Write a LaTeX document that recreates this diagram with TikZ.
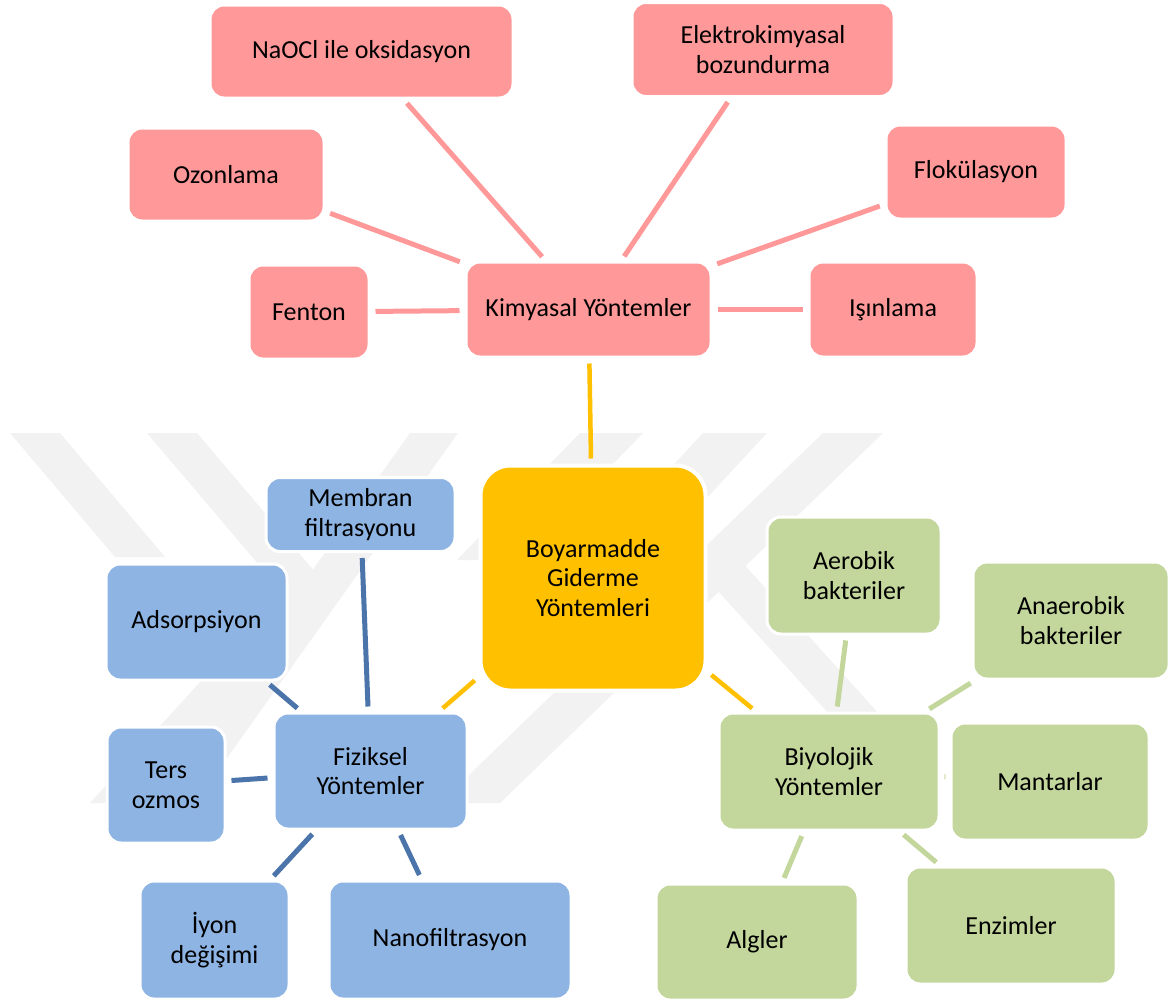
\documentclass[tikz,border=0pt]{standalone}
\usepackage{fontspec}
\setmainfont{Carlito}
\definecolor{redfill}{HTML}{FF9999}
\definecolor{bluefill}{HTML}{8EB4E3}
\definecolor{blueline}{HTML}{4A74AA}
\definecolor{greenfill}{HTML}{C3D69B}
\definecolor{yellowfill}{HTML}{FFC000}
\definecolor{wmgray}{HTML}{F2F2F2}
\pgfdeclarelayer{wm}
\pgfdeclarelayer{lines}
\pgfsetlayers{wm,lines,main}
\tikzset{
  rbox/.style={draw=white, line width=3pt, rounded corners=14pt, inner sep=0pt,
    align=center, text=black, font=\fontsize{26}{29.5}\selectfont},
  redbox/.style={rbox, fill=redfill},
  bluebox/.style={rbox, fill=bluefill},
  greenbox/.style={rbox, fill=greenfill},
  mainbox/.style={rbox, fill=yellowfill, line width=4pt, rounded corners=30pt},
  conn/.style={line width=5pt, shorten >=5pt, shorten <=5pt},
  redline/.style={conn, draw=redfill},
  blueline/.style={conn, draw=blueline},
  greenline/.style={conn, draw=greenfill},
  yellowline/.style={conn, draw=yellowfill, line width=4.5pt},
}
\begin{document}
\begin{tikzpicture}[x=1pt,y=-1pt]
\useasboundingbox (0,0) rectangle (1171,1001);

% watermark
\begin{pgfonlayer}{wm}
\fill[white] (0,0) rectangle (1171,1001);
\fill[wmgray] (10,433) -- (60,433) -- (165,557) -- (115,557) -- cycle;
\fill[wmgray] (147,433) -- (197,433) -- (332,592) -- (140,803) -- (90,803) -- (282,592) -- cycle;
\fill[wmgray] (410,433) -- (458,433) -- (195,803) -- (147,803) -- cycle;
\fill[wmgray] (580,433) -- (643,433) -- (520,560) -- (457,560) -- cycle;
\fill[wmgray] (703,433) -- (767,433) -- (640,570) -- (576,570) -- cycle;
\fill[wmgray] (440,803) -- (500,803) -- (883,433) -- (823,433) -- cycle;
\fill[wmgray] (690,560) -- (740,560) -- (880,715) -- (830,715) -- cycle;
\end{pgfonlayer}

% red nodes
\node[redbox, minimum width=303pt, minimum height=93pt] (naocl) at (361.5,51.5) {NaOCl ile oksidasyon};
\node[redbox, minimum width=262pt, minimum height=94pt] (elek) at (763,49.5) {Elektrokimyasal\\bozundurma};
\node[redbox, minimum width=196pt, minimum height=93pt] (ozon) at (226,174.5) {Ozonlama};
\node[redbox, minimum width=180pt, minimum height=94pt] (flok) at (976,172) {Flokülasyon};
\node[redbox, minimum width=120pt, minimum height=94pt] (fenton) at (309,312) {Fenton};
\node[redbox, minimum width=245pt, minimum height=95pt] (kim) at (588.5,309.5) {Kimyasal Yöntemler};
\node[redbox, minimum width=168pt, minimum height=95pt] (isin) at (893,309.5) {Işınlama};

% main
\node[mainbox, minimum width=225pt, minimum height=225pt] (main) at (593,578) {Boyarmadde\\Giderme\\Yöntemleri};

% blue nodes
\node[bluebox, minimum width=189pt, minimum height=74pt] (memb) at (360.5,514.5) {Membran\\filtrasyonu};
\node[bluebox, minimum width=181pt, minimum height=116pt] (adso) at (196.5,622) {Adsorpsiyon};
\node[bluebox, minimum width=118pt, minimum height=116pt] (ters) at (166,785) {Ters\\ozmos};
\node[bluebox, minimum width=193pt, minimum height=116pt] (fiz) at (370.5,771) {Fiziksel\\Yöntemler};
\node[bluebox, minimum width=149pt, minimum height=118pt] (iyon) at (214.5,940) {İyon\\değişimi};
\node[bluebox, minimum width=242pt, minimum height=118pt] (nano) at (450,940) {Nanofiltrasyon};

% green nodes
\node[greenbox, minimum width=174pt, minimum height=117pt] (aero) at (854,575.5) {Aerobik\\bakteriler};
\node[greenbox, minimum width=196pt, minimum height=117pt] (anae) at (1071,620.5) {Anaerobik\\bakteriler};
\node[greenbox, minimum width=220pt, minimum height=117pt] (biyo) at (829,771.5) {Biyolojik\\Yöntemler};
\node[greenbox, minimum width=198pt, minimum height=117pt] (mant) at (1050,781.5) {Mantarlar};
\node[greenbox, minimum width=202pt, minimum height=116pt] (alg) at (757,942) {Algler};
\node[greenbox, minimum width=210pt, minimum height=117pt] (enz) at (1011,925.5) {Enzimler};

% connectors
\begin{pgfonlayer}{lines}
\draw[redline] (naocl) -- (kim);
\draw[redline] (elek) -- (kim);
\draw[redline] (ozon) -- (kim);
\draw[redline] (flok) -- (kim);
\draw[redline] (fenton) -- (kim);
\draw[redline] (isin) -- (kim);
\draw[yellowline] (kim) -- (main);
\draw[yellowline] (main) -- (fiz);
\draw[yellowline] (main) -- (biyo);
\draw[blueline] (memb) -- (fiz);
\draw[blueline] (adso) -- (fiz);
\draw[blueline] (ters) -- (fiz);
\draw[blueline] (iyon) -- (fiz);
\draw[blueline] (nano) -- (fiz);
\draw[greenline] (aero) -- (biyo);
\draw[greenline] (anae) -- (biyo);
\draw[greenline] (mant) -- (biyo);
\draw[greenline] (alg) -- (biyo);
\draw[greenline] (enz) -- (biyo);
\end{pgfonlayer}
\end{tikzpicture}
\end{document}
